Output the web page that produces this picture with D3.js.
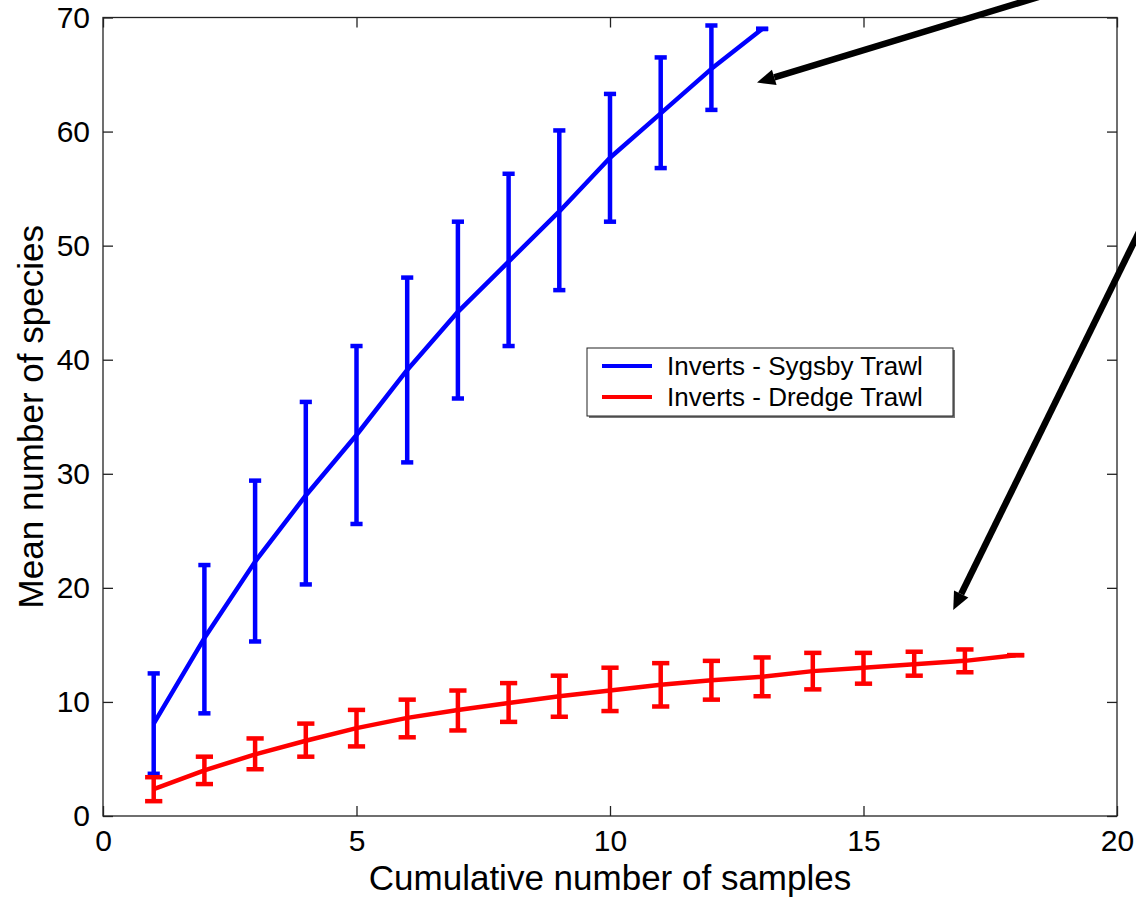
<!DOCTYPE html>
<html>
<head>
<meta charset="utf-8">
<script src="https://cdn.jsdelivr.net/npm/d3@7"></script>
<style>
  html, body { margin: 0; padding: 0; background: #fff; }
  svg { display: block; font-family: "Liberation Sans", Arial, sans-serif; }
</style>
</head>
<body>
<svg id="chart" width="1136" height="901"></svg>
<script>
// samples on the x axis
const samplesSygsby = [1, 2, 3, 4, 5, 6, 7, 8, 9, 10, 11, 12, 13];
const meanSygsby  = [8.1, 15.6, 22.3, 28.1, 33.4, 39.1, 44.2, 48.6, 53.0, 57.7, 61.6, 65.5, 69.0];
const lowSygsby   = [3.7, 9.0, 15.3, 20.3, 25.6, 31.0, 36.6, 41.2, 46.1, 52.1, 56.8, 61.9, 69.0];
const highSygsby  = [12.5, 22.0, 29.4, 36.3, 41.2, 47.2, 52.1, 56.3, 60.1, 63.3, 66.5, 69.3, 69.0];

const samplesDredge = [1, 2, 3, 4, 5, 6, 7, 8, 9, 10, 11, 12, 13, 14, 15, 16, 17, 18];
const meanDredge  = [2.35, 4.0, 5.4, 6.6, 7.7, 8.6, 9.3, 9.9, 10.5, 11.0, 11.5, 11.9, 12.2, 12.7, 13.0, 13.3, 13.6, 14.1];
const lowDredge   = [1.3, 2.8, 4.1, 5.2, 6.1, 6.9, 7.5, 8.25, 8.7, 9.2, 9.6, 10.2, 10.5, 11.1, 11.6, 12.3, 12.6, 14.1];
const highDredge  = [3.4, 5.2, 6.8, 8.1, 9.3, 10.2, 11.0, 11.65, 12.3, 13.0, 13.4, 13.6, 13.9, 14.3, 14.3, 14.4, 14.6, 14.1];

const xTicks = [0, 5, 10, 15, 20];
const yTicks = [0, 10, 20, 30, 40, 50, 60, 70];
const legendLabels = ["Inverts - Sygsby Trawl", "Inverts - Dredge Trawl"];

// annotation arrows, [from, to] in data units
const arrows = [
  [[18.6, 72.0], [12.9, 64.3]],
  [[20.5, 51.8], [16.77, 18.05]]
];

const svg = d3.select("#chart");
const margin = { left: 103, right: 19, top: 17.5, bottom: 85 };
const W = 1136, H = 901;

const x = d3.scaleLinear().domain([0, 20]).range([margin.left, W - margin.right]);
const y = d3.scaleLinear().domain([0, 70]).range([H - margin.bottom, margin.top]);

const series = [
  { xs: samplesSygsby, mean: meanSygsby, lo: lowSygsby, hi: highSygsby, color: "#0000ff" },
  { xs: samplesDredge, mean: meanDredge, lo: lowDredge, hi: highDredge, color: "#ff0000" }
];

// axes box with inward ticks on all four sides
const tickLen = 10;
const axisColor = "#222";
const frame = svg.append("g");

frame.append("rect")
  .attr("x", x(0)).attr("y", y(70))
  .attr("width", x(20) - x(0)).attr("height", y(0) - y(70))
  .attr("fill", "none").attr("stroke", axisColor).attr("stroke-width", 1.3);

const xAxisB = d3.axisBottom(x).tickValues(xTicks).tickSizeInner(-tickLen).tickSizeOuter(0).tickPadding(14);
const xAxisT = d3.axisTop(x).tickValues(xTicks).tickSizeInner(-tickLen).tickSizeOuter(0).tickFormat("");
const yAxisL = d3.axisLeft(y).tickValues(yTicks).tickSizeInner(-tickLen).tickSizeOuter(0).tickPadding(13);
const yAxisR = d3.axisRight(y).tickValues(yTicks).tickSizeInner(-tickLen).tickSizeOuter(0).tickFormat("");

function styleAxis(g) {
  g.select(".domain").remove();
  g.selectAll(".tick line").attr("stroke", axisColor).attr("stroke-width", 1.3);
  g.selectAll(".tick text")
    .attr("fill", "#000")
    .style("font-size", "30px")
    .style("font-family", "'Liberation Sans', Arial, sans-serif");
}

frame.append("g").attr("transform", `translate(0,${y(0)})`).call(xAxisB).call(styleAxis);
frame.append("g").attr("transform", `translate(0,${y(70)})`).call(xAxisT).call(styleAxis);
frame.append("g").attr("transform", `translate(${x(0)},0)`).call(yAxisL).call(styleAxis);
frame.append("g").attr("transform", `translate(${x(20)},0)`).call(yAxisR).call(styleAxis);

// axis titles
svg.append("text")
  .attr("x", (x(0) + x(20)) / 2).attr("y", 890)
  .attr("text-anchor", "middle")
  .style("font-size", "35px")
  .text("Cumulative number of samples");

svg.append("text")
  .attr("transform", `translate(43,${(y(0) + y(70)) / 2}) rotate(-90)`)
  .attr("text-anchor", "middle")
  .style("font-size", "35px")
  .text("Mean number of species");

// lines + error bars
const line = d3.line().x(d => x(d[0])).y(d => y(d[1]));

series.forEach(s => {
  const pts = s.xs.map((v, i) => [v, s.mean[i]]);
  const g = svg.append("g");
  g.append("path")
    .attr("d", line(pts))
    .attr("fill", "none")
    .attr("stroke", s.color)
    .attr("stroke-width", 4.5)
    .attr("stroke-linejoin", "round");

  // matlab-style tee: 1% of the x span each side
  const tee = (d3.max(s.xs) - d3.min(s.xs)) / 100;
  const bars = g.selectAll("g.eb").data(s.xs.map((v, i) => ({ x: v, lo: s.lo[i], hi: s.hi[i] })))
    .enter().append("g").attr("class", "eb")
    .attr("stroke", s.color).attr("stroke-width", 4.5);

  bars.append("line")
    .attr("x1", d => x(d.x)).attr("x2", d => x(d.x))
    .attr("y1", d => y(d.lo)).attr("y2", d => y(d.hi));
  bars.append("line")
    .attr("x1", d => x(d.x - tee)).attr("x2", d => x(d.x + tee))
    .attr("y1", d => y(d.lo)).attr("y2", d => y(d.lo));
  bars.append("line")
    .attr("x1", d => x(d.x - tee)).attr("x2", d => x(d.x + tee))
    .attr("y1", d => y(d.hi)).attr("y2", d => y(d.hi));
});

// legend
const legend = svg.append("g").attr("transform", "translate(587,348)");
legend.append("rect")
  .attr("x", 2).attr("y", 2).attr("width", 366).attr("height", 68)
  .attr("fill", "#777");
legend.append("rect")
  .attr("width", 366).attr("height", 68)
  .attr("fill", "#fff").attr("stroke", "#222").attr("stroke-width", 1);

legendLabels.forEach((lab, i) => {
  const ly = 18 + i * 31;
  legend.append("line")
    .attr("x1", 15).attr("x2", 65).attr("y1", ly).attr("y2", ly)
    .attr("stroke", series[i].color).attr("stroke-width", 4);
  legend.append("text")
    .attr("x", 80).attr("y", ly + 9)
    .style("font-size", "26px")
    .text(lab);
});

// black arrows
arrows.forEach(([from, to]) => {
  const x0 = x(from[0]), y0 = y(from[1]);
  const x1 = x(to[0]), y1 = y(to[1]);
  const ang = Math.atan2(y1 - y0, x1 - x0);
  const headLen = 18, headHalf = 8;
  const bx = x1 - headLen * Math.cos(ang), by = y1 - headLen * Math.sin(ang);
  svg.append("line")
    .attr("x1", x0).attr("y1", y0).attr("x2", bx).attr("y2", by)
    .attr("stroke", "#000").attr("stroke-width", 6.5);
  const px = -Math.sin(ang) * headHalf, py = Math.cos(ang) * headHalf;
  svg.append("path")
    .attr("d", `M${x1},${y1}L${bx + px},${by + py}L${bx - px},${by - py}Z`)
    .attr("fill", "#000");
});
</script>
</body>
</html>
